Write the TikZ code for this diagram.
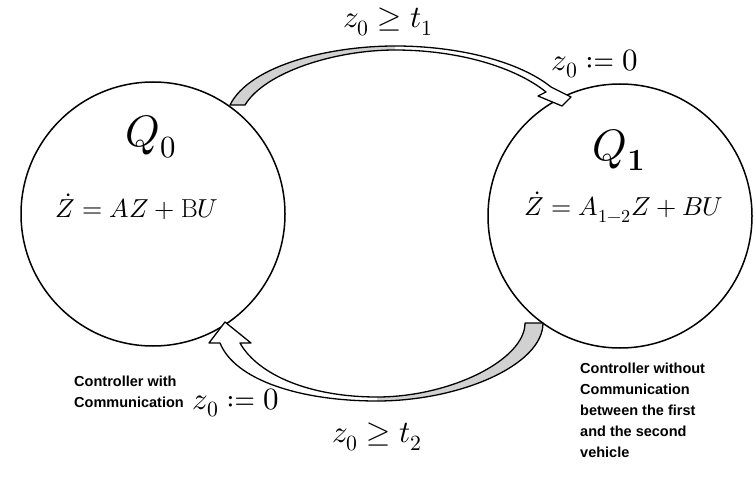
\documentclass[tikz,border=0pt]{standalone}
\usepackage{mathtools}
\usepackage{unicode-math}
\setmathfont{Latin Modern Math}
\newfontfamily\notefont{Liberation Sans}
\begin{document}
\begin{tikzpicture}[x=1pt,y=-1pt,
  statebox/.style={circle,draw,line width=1.5pt,minimum size=264pt,inner sep=0pt},
  band/.style={draw,line width=1.3pt,line join=round},
  greyface/.style={fill=black!18},
  whiteface/.style={fill=white},
  bigq/.style={inner sep=0pt,font=\fontsize{44}{48}\selectfont},
  eqn/.style={inner sep=0pt,font=\fontsize{26}{30}\selectfont},
  guard/.style={inner sep=0pt,font=\fontsize{31}{34}\selectfont},
  note/.style={inner sep=0pt,font=\notefont\fontsize{14.5}{21}\selectfont\bfseries}]
\useasboundingbox (0,0) rectangle (755,484);
\fill[white] (0,0) rectangle (755,484);

\node[statebox] (q0) at (153,214) {};
\node[statebox] (q1) at (620,216) {};

\node[bigq] (q0name) at (151,137) {$Q_0$};
\node[bigq] (q1name) at (619,150) {$Q_{\mathbf{1}}$};
\node[eqn] (q0eq) at (137,207) {$\dot Z = AZ + \mathrm{B}U$};
\node[eqn] (q1eq) at (624,207) {$\dot Z = A_{1-2}Z + BU$};

% top arrow Q0 -> Q1
\coordinate (ta1) at (230,105);
\coordinate (ta2) at (245,105);
\coordinate (tm1) at (395,46);
\coordinate (tm2) at (395,50);
\coordinate (tn1) at (551,87);
\coordinate (tn2) at (546,92);
\coordinate (tb1) at (571,97);
\coordinate (tb2) at (538,96);
\coordinate (tt) at (562,106);
\fill[greyface] (ta1) .. controls (250,65) and (330,46) .. (tm1)
  -- (tm2) .. controls (335,50) and (265,72) .. (ta2) -- cycle;
\fill[whiteface] (tm1) .. controls (460,46) and (520,62) .. (tn1)
  -- (tb1) -- (tt) -- (tb2) -- (tn2)
  .. controls (515,67) and (458,50) .. (tm2) -- cycle;
\draw[band] (tm1) .. controls (330,46) and (250,65) .. (ta1) -- (ta2)
  .. controls (265,72) and (335,50) .. (tm2);
\draw[band] (tm1) .. controls (460,46) and (520,62) .. (tn1)
  -- (tb1) -- (tt) -- (tb2) -- (tn2)
  .. controls (515,67) and (458,50) .. (tm2);

% bottom arrow Q1 -> Q0
\coordinate (ba1) at (543,323);
\coordinate (ba2) at (525,323);
\coordinate (bm1) at (377,401);
\coordinate (bm2) at (377,397);
\coordinate (bn1) at (220,343);
\coordinate (bn2) at (240,343);
\coordinate (bb1) at (209,343);
\coordinate (bb2) at (251,343);
\coordinate (bt) at (225,322);
\fill[greyface] (ba1) .. controls (543,365) and (460,401) .. (bm1)
  -- (bm2) .. controls (450,397) and (525,360) .. (ba2) -- cycle;
\fill[whiteface] (bm1) .. controls (300,401) and (235,380) .. (bn1)
  -- (bb1) -- (bt) -- (bb2) -- (bn2)
  .. controls (258,375) and (310,397) .. (bm2) -- cycle;
\draw[band] (bm1) .. controls (460,401) and (543,365) .. (ba1) -- (ba2)
  .. controls (525,360) and (450,397) .. (bm2);
\draw[band] (bm1) .. controls (300,401) and (235,380) .. (bn1)
  -- (bb1) -- (bt) -- (bb2) -- (bn2)
  .. controls (258,375) and (310,397) .. (bm2);

\node[guard] (g1) at (388,22) {$z_0 \geq t_1$};
\node[guard] (r1) at (595,64) {$z_0 \coloneqq 0$};
\node[guard] (g2) at (377,437) {$z_0 \geq t_2$};
\node[guard] (r2) at (236,403) {$z_0 \coloneqq 0$};

\node[note,anchor=north east,align=left] (n0) at (184,376) {Controller with\\Communication};
\node[note,anchor=north west,align=left] (n1) at (580,363) {Controller without\\Communication\\between the first\\and the second\\vehicle};
\end{tikzpicture}
\end{document}
